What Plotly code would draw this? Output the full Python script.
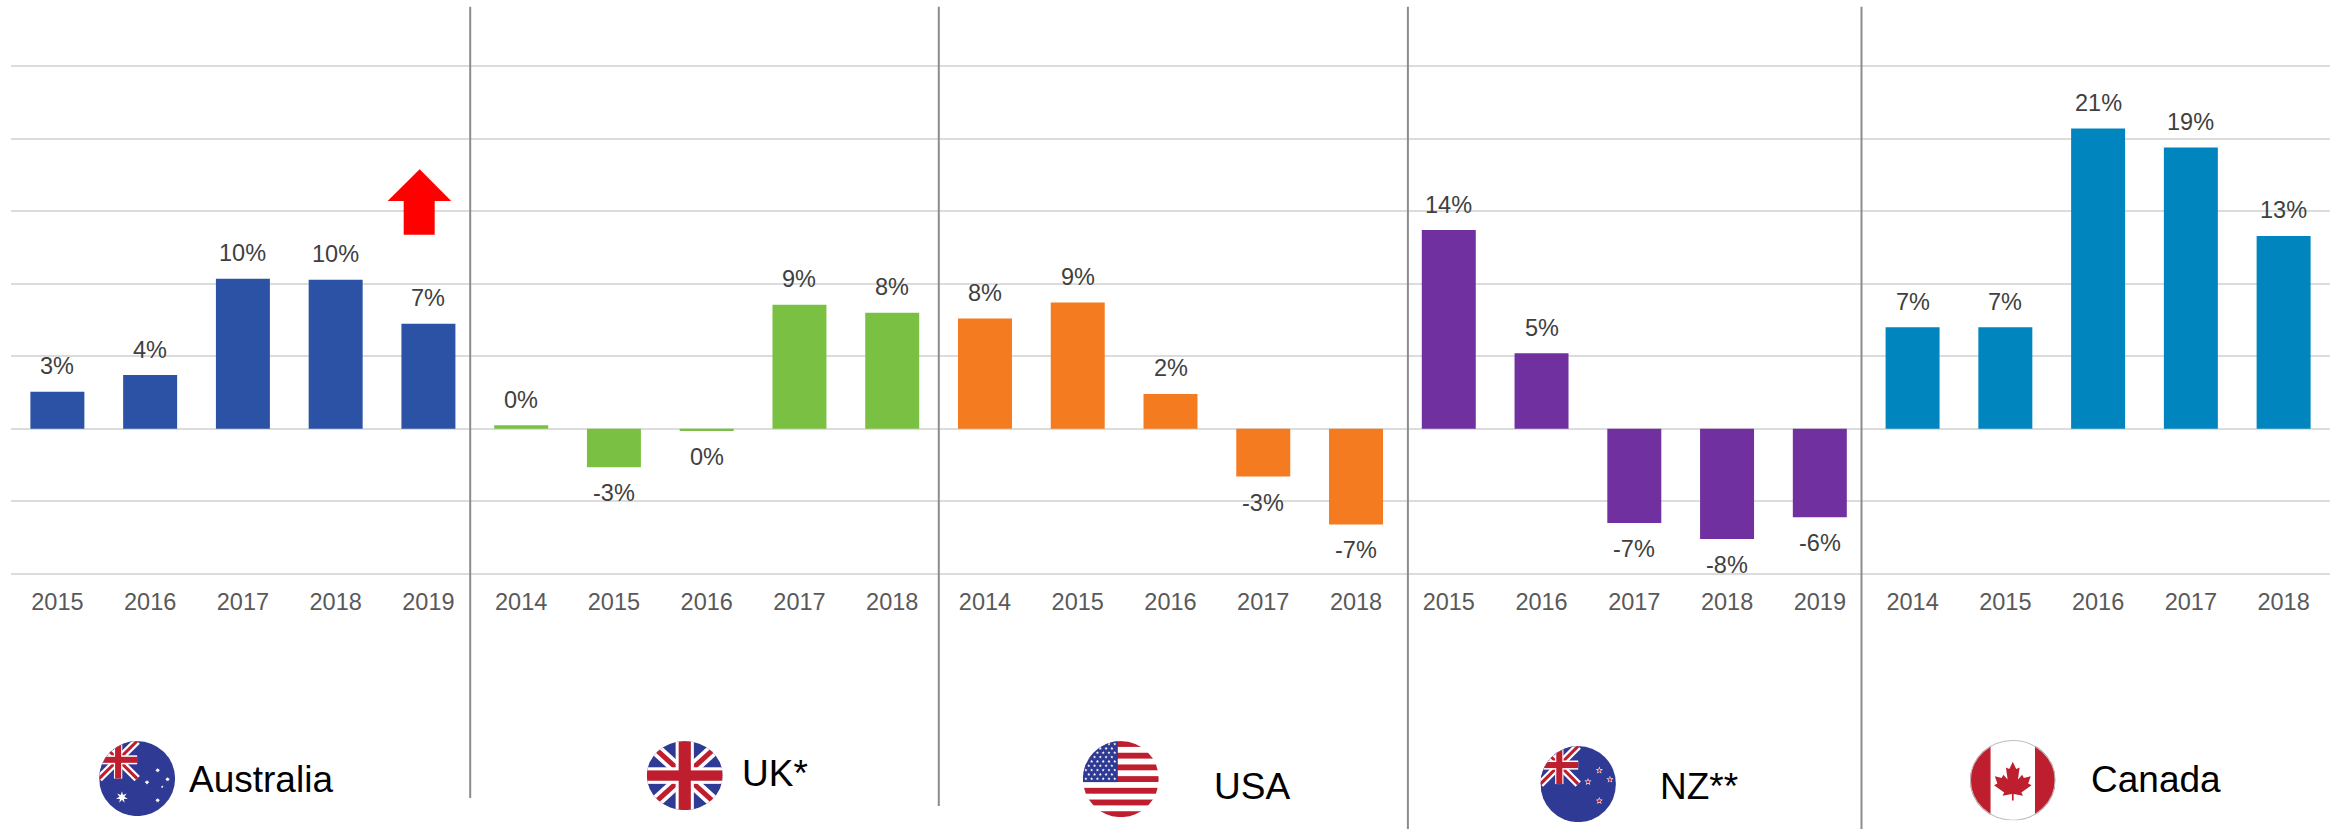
import base64
import math
import plotly.graph_objects as go

W, H = 2341, 829

countries = ["Australia", "UK*", "USA", "NZ**", "Canada"]
years_aus = ["2015", "2016", "2017", "2018", "2019"]
years_uk = ["2014", "2015", "2016", "2017", "2018"]
years_usa = ["2014", "2015", "2016", "2017", "2018"]
years_nz = ["2015", "2016", "2017", "2018", "2019"]
years_can = ["2014", "2015", "2016", "2017", "2018"]
values_aus = [2.55, 3.7, 10.35, 10.28, 7.25]
values_uk = [0.25, -2.65, -0.15, 8.55, 8.0]
values_usa = [7.6, 8.7, 2.4, -3.3, -6.6]
values_nz = [13.7, 5.2, -6.5, -7.6, -6.1]
values_can = [7.0, 7.0, 20.7, 19.4, 13.3]
labels_aus = ["3%", "4%", "10%", "10%", "7%"]
labels_uk = ["0%", "-3%", "0%", "9%", "8%"]
labels_usa = ["8%", "9%", "2%", "-3%", "-7%"]
labels_nz = ["14%", "5%", "-7%", "-8%", "-6%"]
labels_can = ["7%", "7%", "21%", "19%", "13%"]
colors = ["#2B52A4", "#7AC143", "#F47B20", "#7030A0", "#0085BE"]

groups = [
    (years_aus, values_aus, labels_aus),
    (years_uk, values_uk, labels_uk),
    (years_usa, values_usa, labels_usa),
    (years_nz, values_nz, labels_nz),
    (years_can, values_can, labels_can),
]

FONT = "Liberation Sans, Arial, sans-serif"
MARGIN_L, MARGIN_R, PLOT_TOP, PLOT_BOTTOM = 11.4, 11.1, 59.2, 581.0

fig = go.Figure()
tickvals, ticktext = [], []
annotations = []
pos = 0
for name, color, (yrs, vals, labs) in zip(countries, colors, groups):
    xs = list(range(pos, pos + len(vals)))
    pos += len(vals)
    tickvals += xs
    ticktext += yrs
    fig.add_trace(go.Bar(
        x=xs, y=vals, name=name, width=0.582, marker=dict(color=color, line_width=0),
        showlegend=False,
    ))
    for x, v, lab in zip(xs, vals, labs):
        annotations.append(dict(
            x=x, y=v, xref="x", yref="y", text=lab, showarrow=False, xanchor="center", yanchor="middle",
            yshift=25.5 if v >= 0 else -26,
            font=dict(family=FONT, size=23.5, color="#404040"),
        ))


def px(x):
    return (x - MARGIN_L) / (W - MARGIN_L - MARGIN_R)


def py(y):
    return (PLOT_BOTTOM - y) / (PLOT_BOTTOM - PLOT_TOP)


def star(cx, cy, r, fill, points=5):
    pts = []
    for i in range(points * 2):
        a = -math.pi / 2 + i * math.pi / points
        k = 1 if i % 2 == 0 else 0.42
        pts.append(f"{cx + r * k * math.cos(a):.2f},{cy + r * k * math.sin(a):.2f}")
    return f'<polygon points="{" ".join(pts)}" fill="{fill}"/>'


BLUE, RED = "#2E3A94", "#BE1E2D"


def jack(w, h):
    return (
        f'<rect width="{w}" height="{h}" fill="{BLUE}"/>'
        f'<path d="M0 0L{w} {h}M{w} 0L0 {h}" stroke="#fff" stroke-width="{h*0.2}"/>'
        f'<path d="M0 0L{w} {h}M{w} 0L0 {h}" stroke="{RED}" stroke-width="{h*0.08}"/>'
        f'<rect x="{w*0.39}" width="{w*0.22}" height="{h}" fill="#fff"/>'
        f'<rect y="{h*0.38}" width="{w}" height="{h*0.24}" fill="#fff"/>'
        f'<rect x="{w*0.42}" width="{w*0.16}" height="{h}" fill="{RED}"/>'
        f'<rect y="{h*0.42}" width="{w}" height="{h*0.16}" fill="{RED}"/>'
    )


def wrap(body, border=None):
    b = f'<ellipse cx="50" cy="50" rx="49.4" ry="49.4" fill="none" stroke="{border}" stroke-width="1.2"/>' if border else ""
    svg = (
        '<svg xmlns="http://www.w3.org/2000/svg" viewBox="0 0 100 100" width="200" height="200" preserveAspectRatio="none">'
        '<defs><clipPath id="c"><ellipse cx="50" cy="50" rx="50" ry="50"/></clipPath></defs>'
        f'<g clip-path="url(#c)">{body}</g>{b}</svg>'
    )
    return "data:image/svg+xml;base64," + base64.b64encode(svg.encode()).decode()


aus = f'<rect width="100" height="100" fill="{BLUE}"/>' + jack(50, 50)
for sx, sy in [(77, 39), (90, 51), (63, 55), (77, 79)]:
    aus += star(sx, sy, 3.4, "#fff", 7)
aus += star(83, 61, 2, "#fff", 5) + star(30, 75, 8, "#fff", 7)

nz = f'<rect width="100" height="100" fill="{BLUE}"/>' + jack(50, 50)
for sx, sy in [(78, 32), (92, 44), (63, 47), (78, 72)]:
    nz += star(sx, sy, 5, "#fff") + star(sx, sy, 3.2, RED)

uk = f'<rect width="100" height="100" fill="{BLUE}"/>'
uk += '<path d="M0 0L100 100M100 0L0 100" stroke="#fff" stroke-width="17"/>'
uk += f'<path d="M0 0L100 100M100 0L0 100" stroke="{RED}" stroke-width="7"/>'
uk += '<rect x="38" width="24" height="100" fill="#fff"/><rect y="38" width="100" height="24" fill="#fff"/>'
uk += f'<rect x="42" width="16" height="100" fill="{RED}"/><rect y="42.5" width="100" height="15" fill="{RED}"/>'

usa = '<rect width="100" height="100" fill="#fff"/>'
for i in range(7):
    usa += f'<rect y="{i*2*100/13:.2f}" width="100" height="{100/13:.2f}" fill="{RED}"/>'
usa += f'<rect width="46" height="54" fill="{BLUE}"/>'
for r in range(9):
    for c in range(6 if r % 2 == 0 else 5):
        usa += star(4 + c * 7.6 + (3.8 if r % 2 else 0), 4 + r * 5.7, 2.2, "#fff")

half = [(0, 27), (-4, 36), (-8, 34), (-6, 49), (-11, 43), (-13, 47), (-21, 45), (-18, 54),
        (-22, 56), (-10, 65), (-12, 69), (-1, 67), (-1, 75)]
leaf = half + [(-a, b) for a, b in reversed(half[1:])]
leaf_pts = " ".join(f"{50 + a},{b}" for a, b in leaf)
can = '<rect width="100" height="100" fill="#fff"/>'
can += f'<rect width="24" height="100" fill="{RED}"/><rect x="76" width="24" height="100" fill="{RED}"/>'
can += f'<polygon points="{leaf_pts}" fill="{RED}"/>'

flags = [
    (wrap(aus), 99.5, 741, 76, 75),
    (wrap(uk), 647, 741, 76, 69),
    (wrap(usa), 1083, 741, 76, 76),
    (wrap(nz), 1540.5, 746, 75.5, 76),
    (wrap(can, "#BDBDBD"), 1970, 740, 85.5, 80.5),
]
sx_scale = W - MARGIN_L - MARGIN_R
sy_scale = PLOT_BOTTOM - PLOT_TOP
images = [dict(source=s, xref="paper", yref="paper", x=px(x), y=py(y), sizex=w / sx_scale, sizey=h / sy_scale,
               sizing="stretch", xanchor="left", yanchor="top", layer="above")
          for s, x, y, w, h in flags]

label_pos = [(187.5, 779), (740.5, 773), (1212.5, 786), (1658.5, 786), (2088.5, 779)]
annotations += [dict(text=n, xref="paper", yref="paper", x=px(x), y=py(y), xanchor="left", yanchor="middle",
                     showarrow=False, font=dict(family=FONT, size=37, color="#000000"))
                for n, (x, y) in zip(countries, label_pos)]

dividers = [(470.5, 7, 798), (939, 7, 806), (1408, 7, 829), (1861.5, 7, 829)]
shapes = [dict(type="line", xref="paper", yref="paper", x0=px(x), x1=px(x), y0=py(a), y1=py(b),
               line=dict(color="#8C8C8C", width=2), layer="above")
          for x, a, b in dividers]
arrow = [(420, 169.5), (451.5, 201.2), (435, 201.2), (435, 235), (404, 235), (404, 201.2), (388, 201.2)]
path = "M" + " L".join(f"{px(x):.5f},{py(y):.5f}" for x, y in arrow) + " Z"
shapes.append(dict(type="path", xref="paper", yref="paper", path=path, fillcolor="#FF0000", line_width=0, layer="above"))

fig.update_layout(
    width=W, height=H, autosize=False,
    margin=dict(l=MARGIN_L, r=MARGIN_R, t=PLOT_TOP, b=H - PLOT_BOTTOM, pad=0),
    paper_bgcolor="#FFFFFF", plot_bgcolor="#FFFFFF",
    barmode="overlay", showlegend=False,
    images=images, annotations=annotations, shapes=shapes,
    font=dict(family=FONT),
    xaxis=dict(range=[-0.5, 24.5], tickvals=tickvals, ticktext=ticktext, showgrid=False, zeroline=False,
               showline=False, ticks="", ticklabelstandoff=4, tickangle=0,
               tickfont=dict(family=FONT, size=23.5, color="#595959")),
    yaxis=dict(range=[-10.5, 25.5], tickvals=[-10, -5, 0, 5, 10, 15, 20, 25], showticklabels=False, ticks="",
               showline=False, gridcolor="#DCDCDC", gridwidth=2, zeroline=True, zerolinecolor="#DCDCDC",
               zerolinewidth=2),
)

fig.write_html("out.html", config={"displayModeBar": False},
               post_script="document.body.style.margin='0';document.body.style.overflow='hidden';")
